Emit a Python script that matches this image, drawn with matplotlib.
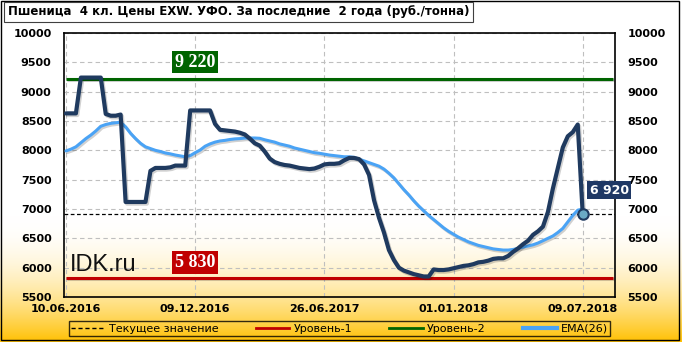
import matplotlib.pyplot as plt
import matplotlib.patheffects as pe
import numpy as np
from matplotlib.lines import Line2D
from matplotlib.patches import Rectangle

plt.rcParams["font.family"] = ["DejaVu Sans"]
plt.rcParams["font.weight"] = "bold"

TITLE = "Пшеница  4 кл. Цены EXW. УФО. За последние  2 года (руб./тонна)"

date_ticks = [0, 26, 52, 78, 104]
date_labels = ["10.06.2016", "09.12.2016", "26.06.2017", "01.01.2018", "09.07.2018"]
y_ticks = [5500, 6000, 6500, 7000, 7500, 8000, 8500, 9000, 9500, 10000]

# weekly price, rub/t
price = [
    8630, 8630, 8630, 9240, 9240, 9240, 9240, 9240, 8620, 8590,
    8590, 8610, 7120, 7120, 7120, 7120, 7120, 7650, 7700, 7700,
    7700, 7710, 7740, 7740, 7740, 8680, 8680, 8680, 8680, 8680,
    8450, 8350, 8340, 8330, 8320, 8300, 8270, 8200, 8120, 8080,
    7980, 7860, 7800, 7770, 7750, 7740, 7720, 7700, 7690, 7680,
    7690, 7720, 7760, 7770, 7770, 7780, 7830, 7870, 7870, 7850,
    7760, 7580, 7150, 6850, 6600, 6300, 6130, 6000, 5950, 5920,
    5890, 5870, 5850, 5850, 5970, 5960, 5960, 5970, 5990, 6010,
    6030, 6040, 6060, 6090, 6100, 6120, 6150, 6160, 6160, 6200,
    6270, 6330, 6400, 6460, 6560, 6620, 6700, 6950, 7350, 7700,
    8050, 8240, 8310, 8440, 6920,
]

ema26 = [
    7990, 8020, 8060, 8130, 8200, 8260, 8330, 8410, 8440, 8460,
    8470, 8480, 8400, 8290, 8200, 8120, 8060, 8030, 8000, 7980,
    7955, 7940, 7920, 7905, 7890, 7910, 7960, 8005, 8070, 8110,
    8140, 8160, 8170, 8185, 8195, 8200, 8210, 8210, 8210, 8205,
    8180, 8160, 8140, 8110, 8090, 8070, 8040, 8020, 8000, 7980,
    7960, 7950, 7935, 7920, 7910, 7900, 7890, 7890, 7880, 7850,
    7820, 7790, 7760, 7730, 7680, 7610, 7530, 7430, 7330, 7240,
    7140, 7050, 6970, 6890, 6820, 6750, 6680, 6620, 6570, 6520,
    6480, 6440, 6410, 6380, 6360, 6340, 6320, 6310, 6300, 6300,
    6310, 6330, 6350, 6370, 6390, 6420, 6460, 6500, 6540, 6600,
    6670, 6780, 6890, 6980, 7000,
]

level_1 = 5830
level_2 = 9220
current = price[-1]

x = np.arange(len(price))

fig = plt.figure(figsize=(6.82, 3.42), dpi=100)

# background gradient white -> orange at the bottom
bg = fig.add_axes([0, 0, 1, 1], zorder=-10)
h = 342
t = np.clip((np.arange(h) - 215) / (h - 215), 0, 1) ** 2
grad = np.ones((h, 1, 3))
grad[:, 0, 1] = 1 - t * (63 / 255)
grad[:, 0, 2] = 1 - t
bg.imshow(grad, aspect="auto", extent=[0, 1, 0, 1], origin="upper")
bg.axis("off")

ax = fig.add_axes([64 / 682, 45 / 342, 551 / 682, 264 / 342])
ax.patch.set_alpha(0)

shadow = [pe.SimpleLineShadow(offset=(1, -1.2), shadow_color="k", alpha=0.18), pe.Normal()]

ax.axhline(current, color="k", lw=0.9, ls=(0, (3, 2)), zorder=3)
ax.hlines(level_2, 0, 110, color="#006400", lw=2.2, zorder=3, path_effects=shadow)
ax.hlines(level_1, 0, 110, color="#c00000", lw=2.2, zorder=3, path_effects=shadow)
ax.plot(x, ema26, color="#4aa3f5", lw=2.2, zorder=4, solid_capstyle="round", path_effects=shadow)
ax.plot(x, price, color="#1f3a5f", lw=3.0, zorder=5, solid_joinstyle="round",
        solid_capstyle="round", path_effects=shadow)
ax.plot(x[-1], current, "o", ms=7.5, mfc="#6aaac4", mec="#1f3a5f", mew=1.5, zorder=6)


def fmt(v):
    return f"{v:,}".replace(",", " ")


ax.annotate(fmt(level_2), (26, level_2), xytext=(0, 12), textcoords="offset points",
            ha="center", va="center", color="white", fontsize=13, fontweight="bold",
            family="Liberation Serif", zorder=7,
            bbox=dict(boxstyle="square,pad=0.15", fc="#006400", ec="none"))
ax.annotate(fmt(level_1), (26, level_1), xytext=(0, 11), textcoords="offset points",
            ha="center", va="center", color="white", fontsize=13, fontweight="bold",
            family="Liberation Serif", zorder=7,
            bbox=dict(boxstyle="square,pad=0.15", fc="#c00000", ec="none"))
ax.annotate(fmt(current), (x[-1], current), xytext=(19, 17), textcoords="offset points",
            ha="center", va="center", color="white", fontsize=9, fontweight="bold",
            zorder=7, annotation_clip=False,
            bbox=dict(boxstyle="square,pad=0.22", fc="#1f3864", ec="none"))

ax.text(0.01, 0.12, "IDK.ru", transform=ax.transAxes, fontsize=17, fontweight="normal",
        family="Liberation Sans", color="#111111", ha="left", va="center", zorder=2)

ax.set_xlim(-0.4, 110.5)
ax.set_ylim(5500, 10000)
ax.set_xticks(date_ticks, date_labels)
ax.set_yticks(y_ticks)
ax.grid(color="#bfbfbf", linestyle=(0, (4, 3)), lw=0.8)
ax.set_axisbelow(True)
ax.tick_params(axis="y", length=0, pad=9, labelsize=8, labelright=True)
ax.tick_params(axis="x", length=0, pad=5, labelsize=8)
for s in ax.spines.values():
    s.set_color("k")
    s.set_linewidth(1.2)

handles = [
    Line2D([], [], color="k", lw=1, ls=(0, (3, 2))),
    Line2D([], [], color="#c00000", lw=2),
    Line2D([], [], color="#006400", lw=2),
    Line2D([], [], color="#4aa3f5", lw=3),
]
labels = ["Текущее значение", "Уровень-1", "Уровень-2", "EMA(26)"]
leg = fig.legend(handles, labels, loc="center", ncol=4, mode="expand",
                 bbox_to_anchor=(63 / 682, 5 / 342, 553 / 682, 17 / 342),
                 frameon=True, fancybox=False, edgecolor="k", facecolor="none",
                 prop={"size": 8, "weight": "normal"}, handlelength=3,
                 borderpad=0.2, handletextpad=0.4, columnspacing=1.0)
leg.get_frame().set_linewidth(1)

fig.text(8 / 682, 1 - 12 / 342, TITLE, ha="left", va="center", fontsize=8.5,
         fontweight="bold",
         bbox=dict(boxstyle="square,pad=0.3", fc="white", ec="#404040", lw=0.8))

fig.patches.append(Rectangle((0.002, 0.006), 0.994, 0.99, transform=fig.transFigure,
                             fill=False, ec="k", lw=1))

fig.savefig("out.png", dpi=100)
